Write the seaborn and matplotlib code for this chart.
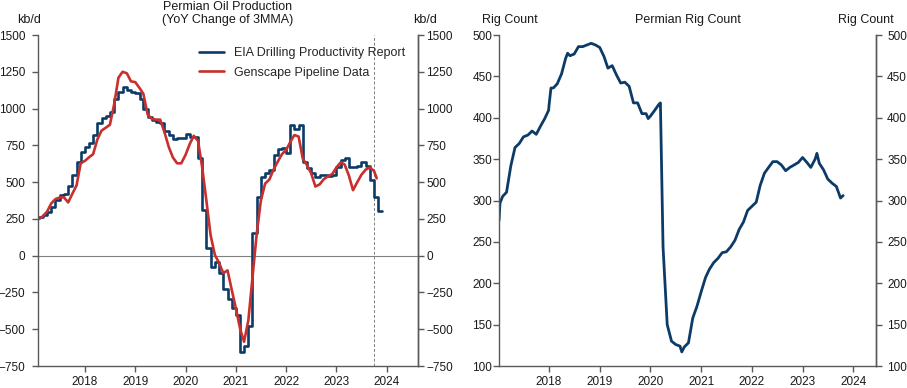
import pandas as pd
import matplotlib.pyplot as plt
import matplotlib.dates as mdates
import seaborn as sns

# EIA Drilling Productivity Report, YoY change of 3MMA (kb/d), one value per month Jan-2017 .. Nov-2023
eia_first_month = "2017-01-01"
eia_values = [
    254, 262, 278, 300, 333, 378, 412, 420, 473, 548, 639, 707,        # 2017
    741, 764, 820, 900, 934, 950, 979, 1063, 1115, 1148, 1128, 1115,   # 2018
    1105, 1065, 995, 945, 920, 910, 905, 845, 820, 793, 797, 797,      # 2019
    830, 808, 808, 666, 310, 50, -77, -45, -120, -226, -297, -358,     # 2020
    -404, -653, -614, -478, 152, 400, 533, 560, 585, 684, 725, 730,    # 2021
    696, 888, 859, 888, 635, 594, 560, 533, 550, 550, 545, 548,        # 2022
    605, 650, 662, 605, 605, 610, 640, 610, 512, 401, 306,             # 2023
]
eia_last_day = "2023-11-28"

# Genscape pipeline data (kb/d), month starts Jan-2017 .. Oct-2023 plus the last reading
genscape_first_month = "2017-01-01"
genscape_values = [
    235, 250, 268, 300, 355, 385, 395, 397, 362, 420, 478, 628,        # 2017
    645, 670, 690, 790, 850, 870, 890, 1030, 1210, 1250, 1240, 1185,   # 2018
    1180, 1140, 1100, 960, 930, 925, 925, 840, 740, 668, 628, 628,     # 2019
    685, 760, 815, 780, 600, 370, 140, 5, -50, -118, -100, -230,       # 2020
    -360, -500, -585, -440, -150, 150, 375, 490, 518, 585, 640, 690,   # 2021
    720, 775, 820, 810, 660, 615, 560, 470, 485, 520, 540, 555,        # 2022
    600, 635, 620, 545, 445, 500, 550, 585, 600, 575,                  # 2023
]
genscape_last_day = "2023-10-20"
genscape_last_value = 526

# Permian rig count, month starts Jan-2017 .. Oct-2023 (first reading on Jan 6)
rig_first_month = "2017-01-06"
rig_values = [
    276, 305, 310, 342, 364, 369, 377, 379, 384, 380, 390, 399,        # 2017
    415, 436, 441, 453, 472, 475, 477, 486, 486, 488, 490, 488,        # 2018
    485, 474, 460, 463, 452, 442, 443, 438, 418, 418, 405, 405,        # 2019
    402, 409, 416, 244, 150, 130, 126, 124, 123, 128, 158, 172,        # 2020
    190, 207, 217, 225, 230, 237, 238, 244, 252, 265, 274, 288,        # 2021
    293, 298, 318, 333, 340, 347, 347, 343, 336, 340, 343, 346,        # 2022
    352, 346, 340, 350, 345, 337, 326, 321, 317, 303,                  # 2023
]
rig_extra_days = ["2017-01-13", "2017-12-29", "2018-01-15", "2018-05-15", "2019-12-16",
                  "2020-03-13", "2020-08-14", "2023-04-14", "2023-10-20"]
rig_extra_values = [297, 409, 436, 478, 399, 418, 117, 357, 306]

cutoff_day = "2023-10-01"

BLUE = "#0c3b68"
RED = "#c8302e"
GREY = "#595959"
TEXT = "#1a1a1a"

eia_dates = list(pd.date_range(eia_first_month, periods=len(eia_values), freq="MS")) + [pd.Timestamp(eia_last_day)]
eia = pd.DataFrame({"date": eia_dates, "kbd": eia_values + [eia_values[-1]]})

gen_dates = list(pd.date_range(genscape_first_month, periods=len(genscape_values), freq="MS")) + [pd.Timestamp(genscape_last_day)]
gen = pd.DataFrame({"date": gen_dates, "kbd": genscape_values + [genscape_last_value]})

rig_dates = [pd.Timestamp(rig_first_month)] + list(pd.date_range("2017-02-01", periods=len(rig_values) - 1, freq="MS"))
rig = pd.DataFrame({"date": rig_dates + list(pd.to_datetime(rig_extra_days)),
                    "rigs": rig_values + rig_extra_values}).sort_values("date")

sns.set_style("ticks")
plt.rcParams["font.family"] = ["Liberation Sans", "DejaVu Sans"]
plt.rcParams["font.size"] = 9

fig = plt.figure(figsize=(9.07, 3.88), dpi=100)
ax1 = fig.add_axes([0.0419, 0.0567, 0.419, 0.853])
ax2 = fig.add_axes([0.5502, 0.0567, 0.4157, 0.853])

TICK_SIZE = 8.5


def style_axes(ax, ylim, yticks, xlim, left_pad, right_pad):
    ax.set_xlim(pd.Timestamp(xlim[0]), pd.Timestamp(xlim[1]))
    ax.set_ylim(*ylim)
    ax.set_yticks(yticks)
    ax.set_xlabel("")
    ax.set_ylabel("")
    ax.xaxis.set_major_locator(mdates.YearLocator())
    ax.xaxis.set_major_formatter(mdates.DateFormatter("%Y"))
    ax.tick_params(axis="both", direction="out", length=4, width=1, color=GREY,
                   labelsize=TICK_SIZE, labelcolor=TEXT)
    ax.tick_params(axis="x", pad=3)
    ax.tick_params(axis="y", pad=left_pad)
    for side in ["left", "bottom", "right"]:
        ax.spines[side].set_color(GREY)
        ax.spines[side].set_linewidth(1)
    ax.spines["top"].set_visible(False)
    # mirror axis on the right
    axr = ax.twinx()
    axr.set_ylim(*ylim)
    axr.set_yticks(yticks)
    axr.tick_params(axis="y", direction="out", length=4, width=1, color=GREY,
                    labelsize=TICK_SIZE, labelcolor=TEXT, pad=right_pad)
    for side in ["left", "bottom", "top"]:
        axr.spines[side].set_visible(False)
    axr.spines["right"].set_color(GREY)
    axr.spines["right"].set_linewidth(1)
    return axr


# ---- left panel: production ----
ax1.axhline(0, color="#808080", lw=0.8, zorder=1)
ax1.axvline(pd.Timestamp(cutoff_day), color="#808080", lw=0.7, ls=(0, (3, 2)), zorder=1)
sns.lineplot(data=eia, x="date", y="kbd", ax=ax1, color=BLUE, lw=1.9,
             drawstyle="steps-post", label="EIA Drilling Productivity Report")
sns.lineplot(data=gen, x="date", y="kbd", ax=ax1, color=RED, lw=1.9,
             label="Genscape Pipeline Data")
style_axes(ax1, (-750, 1500), range(-750, 1501, 250), ("2017-01-25", "2024-08-15"), 5, 2)
ax1.legend(loc="upper left", bbox_to_anchor=(0.41, 0.978), frameon=False, fontsize=9,
           handlelength=2.0, handletextpad=0.8, labelspacing=0.6, borderaxespad=0)

ax1.text(0.5, 1.027, "Permian Oil Production\n(YoY Change of 3MMA)", transform=ax1.transAxes,
         ha="center", va="bottom", fontsize=9, color=TEXT, linespacing=1.1)
ax1.text(-0.024, 1.027, "kb/d", transform=ax1.transAxes, ha="center", va="bottom", fontsize=9, color=TEXT)
ax1.text(1.018, 1.027, "kb/d", transform=ax1.transAxes, ha="center", va="bottom", fontsize=9, color=TEXT)

# ---- right panel: rig count ----
sns.lineplot(data=rig, x="date", y="rigs", ax=ax2, color=BLUE, lw=2.0)
style_axes(ax2, (100, 500), range(100, 501, 50), ("2017-01-06", "2024-06-13"), 1, 4)

ax2.text(0.5, 1.027, "Permian Rig Count", transform=ax2.transAxes,
         ha="center", va="bottom", fontsize=9, color=TEXT)
ax2.text(0.028, 1.027, "Rig Count", transform=ax2.transAxes, ha="center", va="bottom", fontsize=9, color=TEXT)
ax2.text(0.972, 1.027, "Rig Count", transform=ax2.transAxes, ha="center", va="bottom", fontsize=9, color=TEXT)

fig.savefig("out.png", dpi=100)
